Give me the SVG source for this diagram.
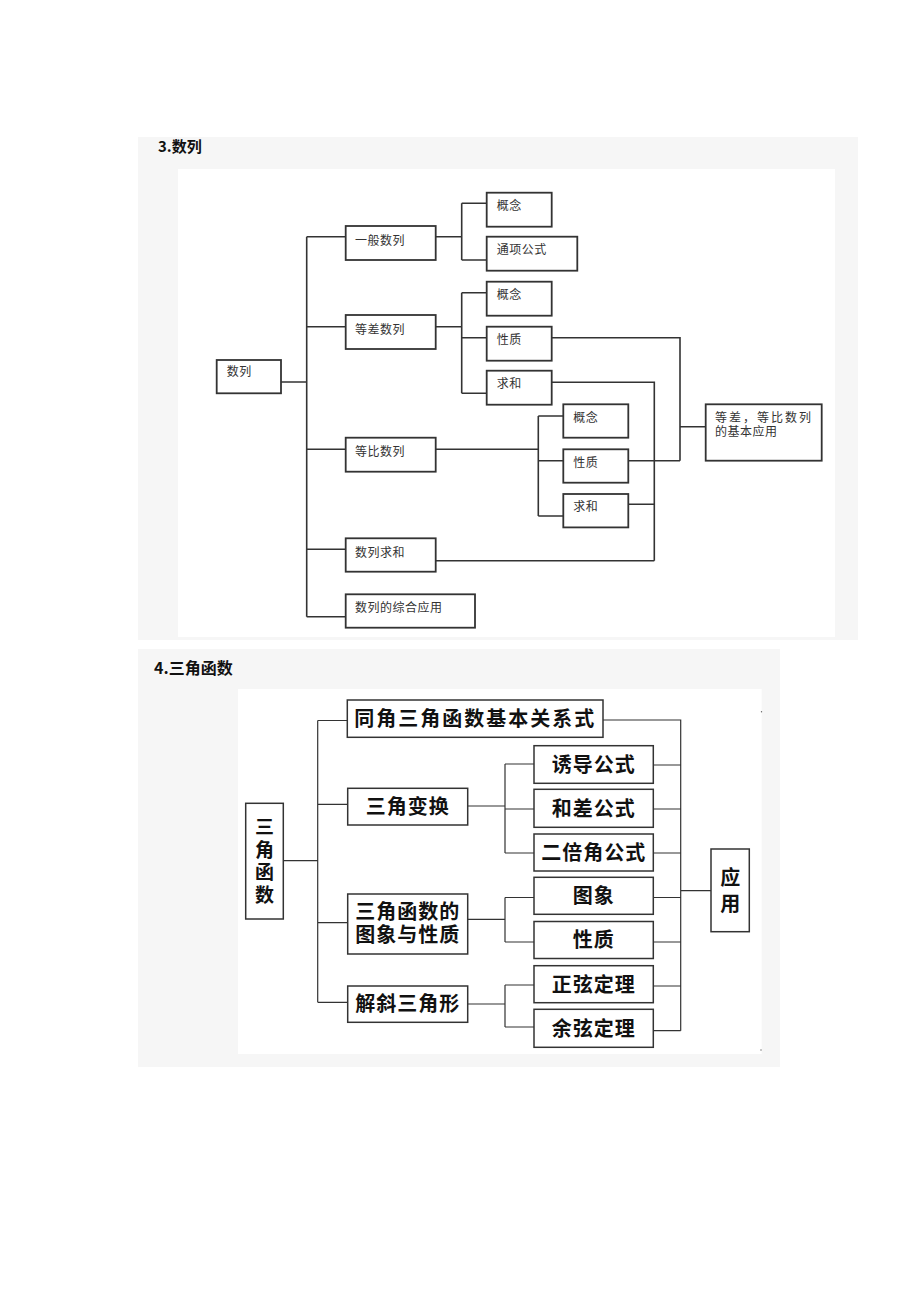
<svg xmlns="http://www.w3.org/2000/svg" width="920" height="1302" viewBox="0 0 920 1302">
<style>
.panel{fill:#f6f6f6}
.inner{fill:#ffffff}
.b1{fill:#ffffff;stroke:#333;stroke-width:1.8}
.c1{fill:none;stroke:#333;stroke-width:1.6}
.t1{font-family:"Noto Sans CJK SC","Noto Sans",sans-serif;font-size:12px;fill:#333;letter-spacing:0.5px}
.b2{fill:#ffffff;stroke:#333;stroke-width:1.5}
.c2{fill:none;stroke:#333;stroke-width:1.2}
.t2{font-family:"Noto Sans CJK SC","Noto Sans",sans-serif;font-size:20px;font-weight:700;fill:#111;text-anchor:middle;letter-spacing:1px}
.tv{font-family:"Noto Sans CJK SC","Noto Sans",sans-serif;font-weight:700;fill:#111;text-anchor:middle;writing-mode:vertical-rl}
.title{font-family:"Noto Sans CJK SC","Noto Sans",sans-serif;font-weight:700;fill:#111}
</style>
<rect width="920" height="1302" fill="#ffffff"/>
<!-- Section 3 -->
<rect class="panel" x="138" y="137" width="720" height="503"/>
<rect class="inner" x="178" y="169" width="657" height="468"/>
<text class="title" x="158" y="152" font-size="15">3.数列</text>
<g id="s1-connectors">
<path class="c1" d="M281,382H306.7 M306.7,236.7V616.7 M306.7,236.7H345.7 M306.7,326.7H345.7 M306.7,449.3H345.7 M306.7,549.3H345.7 M306.7,616.7H345.7"/>
<path class="c1" d="M435.7,236.7H461.7 M461.7,203.3V260 M461.7,203.3H486.7 M461.7,260H486.7"/>
<path class="c1" d="M435.7,326.7H461.7 M461.7,292.7V393.3 M461.7,292.7H486.7 M461.7,337.7H486.7 M461.7,393.3H486.7"/>
<path class="c1" d="M551.7,337.7H680V460.7 M551.7,382.3H654.3V560.7"/>
<path class="c1" d="M435.7,449.3H538.3 M538.3,416V516 M538.3,416H563.3 M538.3,460.7H563.3 M538.3,516H563.3"/>
<path class="c1" d="M628.3,460.7H680 M628.3,504.3H654.3 M435.7,560.7H654.3 M680,426.7H705.7"/>
</g>
<g id="n-shulie"><rect class="b1" x="216.7" y="360" width="64.3" height="33.3"/><text class="t1" x="226.7" y="376">数列</text></g>
<g id="n-yiban"><rect class="b1" x="345.7" y="226" width="90" height="34"/><text class="t1" x="355" y="244.5">一般数列</text></g>
<g id="n-gainian1"><rect class="b1" x="486.7" y="192.7" width="65" height="34"/><text class="t1" x="496.7" y="210">概念</text></g>
<g id="n-tongxiang"><rect class="b1" x="486.7" y="236.7" width="90.6" height="34"/><text class="t1" x="496.7" y="254">通项公式</text></g>
<g id="n-dengcha"><rect class="b1" x="345.7" y="315" width="90" height="34"/><text class="t1" x="355" y="333.5">等差数列</text></g>
<g id="n-gainian2"><rect class="b1" x="486.7" y="281.7" width="65" height="34"/><text class="t1" x="496.7" y="299">概念</text></g>
<g id="n-xingzhi2"><rect class="b1" x="486.7" y="326.7" width="65" height="34"/><text class="t1" x="496.7" y="344">性质</text></g>
<g id="n-qiuhe2"><rect class="b1" x="486.7" y="370.7" width="65" height="34"/><text class="t1" x="496.7" y="388">求和</text></g>
<g id="n-dengbi"><rect class="b1" x="345.7" y="437.7" width="90" height="34"/><text class="t1" x="355" y="456">等比数列</text></g>
<g id="n-gainian3"><rect class="b1" x="563.3" y="404.3" width="65" height="33.4"/><text class="t1" x="573.3" y="421.5">概念</text></g>
<g id="n-xingzhi3"><rect class="b1" x="563.3" y="449.3" width="65" height="33.4"/><text class="t1" x="573.3" y="466.5">性质</text></g>
<g id="n-qiuhe3"><rect class="b1" x="563.3" y="494" width="65" height="33.4"/><text class="t1" x="573.3" y="511">求和</text></g>
<g id="n-shuliqiuhe"><rect class="b1" x="345.7" y="538.3" width="90" height="33.4"/><text class="t1" x="355" y="556.5">数列求和</text></g>
<g id="n-zonghe"><rect class="b1" x="345.7" y="594.3" width="129.3" height="33.4"/><text class="t1" x="355" y="612">数列的综合应用</text></g>
<g id="n-yingyong1"><rect class="b1" x="705.7" y="404.3" width="116" height="56.4"/><text class="t1" x="715" y="421.5"><tspan style="letter-spacing:2px">等差，等比数列</tspan><tspan x="715" dy="14.5">的基本应用</tspan></text></g>
<!-- Section 4 -->
<rect class="panel" x="138" y="649" width="642" height="418"/>
<rect class="inner" x="238" y="689" width="523.7" height="365"/>
<text class="title" x="154" y="673.5" font-size="16">4.三角函数</text>
<circle cx="761.5" cy="711.7" r="0.7" fill="#666"/>
<circle cx="761" cy="1050" r="0.7" fill="#666"/>
<g id="s2-connectors">
<path class="c2" d="M283.3,860.7H317.7 M317.7,720.5V1002.3 M317.7,720.5H347.3 M317.7,804.3H347.7 M317.7,922.7H347.7 M317.7,1002.3H347.7"/>
<path class="c2" d="M467.7,806H505 M505,764V853 M505,764H534 M505,809H534 M505,853H534"/>
<path class="c2" d="M467.7,919.3H505 M505,897.5V942 M505,897.5H534 M505,942H534"/>
<path class="c2" d="M467.7,1004H505 M505,985V1027 M505,985H534 M505,1027H534"/>
<path class="c2" d="M603,720H680.7V1030.7 M653.3,765H680.7 M653.3,809H680.7 M653.3,853H680.7 M653.3,897.5H680.7 M653.3,942H680.7 M653.3,986H680.7 M653.3,1030.7H680.7 M680.7,890.7H711"/>
</g>
<g id="n-sanjiaohanshu"><rect class="b2" x="245.7" y="803.3" width="37.6" height="115.7"/>
<text class="tv" x="264.5" y="862.5" style="font-size:19px;letter-spacing:3.5px">三角函数</text></g>
<g id="n-tongjiao"><rect class="b2" x="347.3" y="700" width="255.7" height="37.3"/><text class="t2" x="475.2" y="725.5" style="letter-spacing:2px">同角三角函数基本关系式</text></g>
<g id="n-bianhuan"><rect class="b2" x="347.7" y="788.3" width="120" height="36.7"/><text class="t2" x="407.7" y="813.5">三角变换</text></g>
<g id="n-youdao"><rect class="b2" x="534" y="745.7" width="119.3" height="37.6"/><text class="t2" x="593.7" y="771.5">诱导公式</text></g>
<g id="n-hecha"><rect class="b2" x="534" y="789.3" width="119.3" height="38"/><text class="t2" x="593.7" y="815.5">和差公式</text></g>
<g id="n-erbei"><rect class="b2" x="534" y="834" width="119.3" height="37"/><text class="t2" x="593.7" y="859.5">二倍角公式</text></g>
<g id="n-tuxiangxingzhi"><rect class="b2" x="347.7" y="894" width="120" height="60"/><text class="t2" x="407.7" y="918.5"><tspan>三角函数的</tspan><tspan x="407.7" dy="23.5">图象与性质</tspan></text></g>
<g id="n-tuxiang"><rect class="b2" x="534" y="877.3" width="119.3" height="37"/><text class="t2" x="593.7" y="903">图象</text></g>
<g id="n-xingzhi"><rect class="b2" x="534" y="921.5" width="119.3" height="37"/><text class="t2" x="593.7" y="947">性质</text></g>
<g id="n-jiexie"><rect class="b2" x="347.7" y="986" width="120" height="36.3"/><text class="t2" x="407.7" y="1011">解斜三角形</text></g>
<g id="n-zhengxian"><rect class="b2" x="534" y="965.7" width="119.3" height="37"/><text class="t2" x="593.7" y="991.5">正弦定理</text></g>
<g id="n-yuxian"><rect class="b2" x="534" y="1009.3" width="119.3" height="38"/><text class="t2" x="593.7" y="1035.5">余弦定理</text></g>
<g id="n-yingyong2"><rect class="b2" x="711" y="849" width="38.3" height="82.7"/><text class="tv" x="730.2" y="893" style="font-size:20px;letter-spacing:6px">应用</text></g>
</svg>
